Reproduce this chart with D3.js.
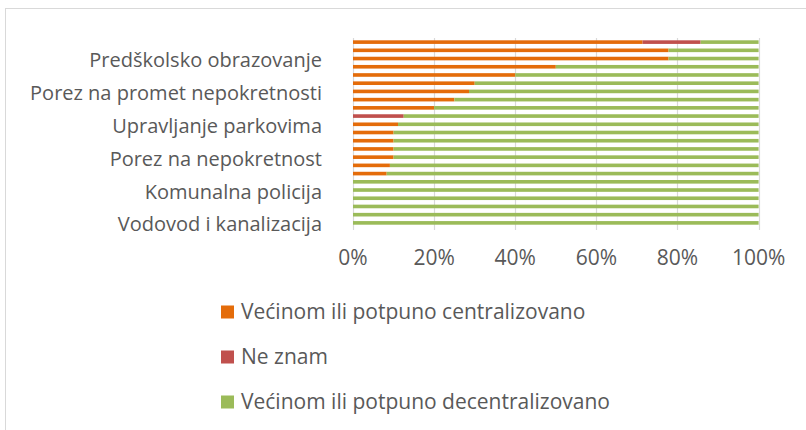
<!DOCTYPE html>
<html>
<head>
<meta charset="utf-8">
<script src="https://cdn.jsdelivr.net/npm/d3@7"></script>
<style>
  body { margin: 0; background: #fff; }
  text { font-family: "Open Sans", Lato, sans-serif; fill: #595959; }
</style>
</head>
<body>
<div id="chart"></div>
<script>
    var width = 806,
        height = 430;

    // categories top to bottom (only every 4th label is shown in the original)
    var categories = ["", "", "Predškolsko obrazovanje", "", "", "", "Porez na promet nepokretnosti", "", "", "",
                      "Upravljanje parkovima", "", "", "", "Porez na nepokretnost", "", "", "",
                      "Komunalna policija", "", "", "", "Vodovod i kanalizacija"];
    var centralizovano   = [71.4, 77.8, 77.8, 50, 40, 30, 28.6, 25, 20, 0, 11.1, 10, 10, 10, 10, 9.1, 8.3, 0, 0, 0, 0, 0, 0];
    var neZnam           = [14.3, 0, 0, 0, 0, 0, 0, 0, 0, 12.5, 0, 0, 0, 0, 0, 0, 0, 0, 0, 0, 0, 0, 0];
    var decentralizovano = [14.3, 22.2, 22.2, 50, 60, 70, 71.4, 75, 80, 87.5, 88.9, 90, 90, 90, 90, 90.9, 91.7, 100, 100, 100, 100, 100, 100];
    var ticks = [0, 20, 40, 60, 80, 100];
    var seriesNames = ["Većinom ili potpuno centralizovano", "Ne znam", "Većinom ili potpuno decentralizovano"];
    var colors = ["#E46C0A", "#C0504D", "#9BBB59"];

    var svg = d3.select("#chart")
            .append("svg")
            .attr("width", width)
            .attr("height", height);

    // outer chart border (cropped at right and bottom)
    svg.append("rect")
        .attr("x", 5.5).attr("y", 8.5)
        .attr("width", 900).attr("height", 500)
        .attr("fill", "none")
        .attr("stroke", "#d9d9d9");

    var x = d3.scaleLinear().domain([0, 100]).range([353, 758.6]);
    var y = d3.scaleBand()
        .domain(d3.range(categories.length))
        .range([38, 227])
        .paddingInner(0.56)
        .paddingOuter(0.28);

    // gridlines + ticks
    svg.selectAll(".grid")
        .data(ticks)
        .enter().append("line")
        .attr("x1", function(d) { return Math.round(x(d)) + 0.5; })
        .attr("x2", function(d) { return Math.round(x(d)) + 0.5; })
        .attr("y1", 38)
        .attr("y2", 230)
        .attr("stroke", "#d9d9d9")
        .attr("stroke-width", 1.2);

    svg.selectAll(".tick-label")
        .data(ticks)
        .enter().append("text")
        .attr("x", function(d) { return x(d); })
        .attr("y", 258)
        .attr("dy", ".35em")
        .attr("text-anchor", "middle")
        .style("font-size", "21px")
        .text(function(d) { return d + "%"; });

    // stacked bars
    var rows = categories.map(function(c, i) {
        return [centralizovano[i], neZnam[i], decentralizovano[i]];
    });

    rows.forEach(function(r, i) {
        var x0 = 0;
        r.forEach(function(v, j) {
            if (v > 0) {
                svg.append("rect")
                    .attr("x", x(x0))
                    .attr("y", y(i))
                    .attr("width", x(x0 + v) - x(x0))
                    .attr("height", y.bandwidth())
                    .attr("fill", colors[j]);
            }
            x0 += v;
        });
    });

    // category labels
    svg.selectAll(".cat")
        .data(categories)
        .enter().append("text")
        .attr("x", 322)
        .attr("y", function(d, i) { return y(i) + y.bandwidth() / 2 + 1.5; })
        .attr("dy", ".35em")
        .attr("text-anchor", "end")
        .style("font-size", "20px")
        .text(function(d) { return d; });

    // legend
    var legend = svg.selectAll(".legend")
        .data(seriesNames)
        .enter().append("g")
        .attr("class", "legend")
        .attr("transform", function(d, i) { return "translate(221," + (312 + i * 45) + ")"; });

    legend.append("rect")
        .attr("x", 0)
        .attr("y", -6.5)
        .attr("width", 13)
        .attr("height", 13)
        .attr("fill", function(d, i) { return colors[i]; });

    legend.append("text")
        .attr("x", 20)
        .attr("y", 0)
        .attr("dy", ".35em")
        .style("font-size", "21px")
        .text(function(d) { return d; });
</script>
</body>
</html>
